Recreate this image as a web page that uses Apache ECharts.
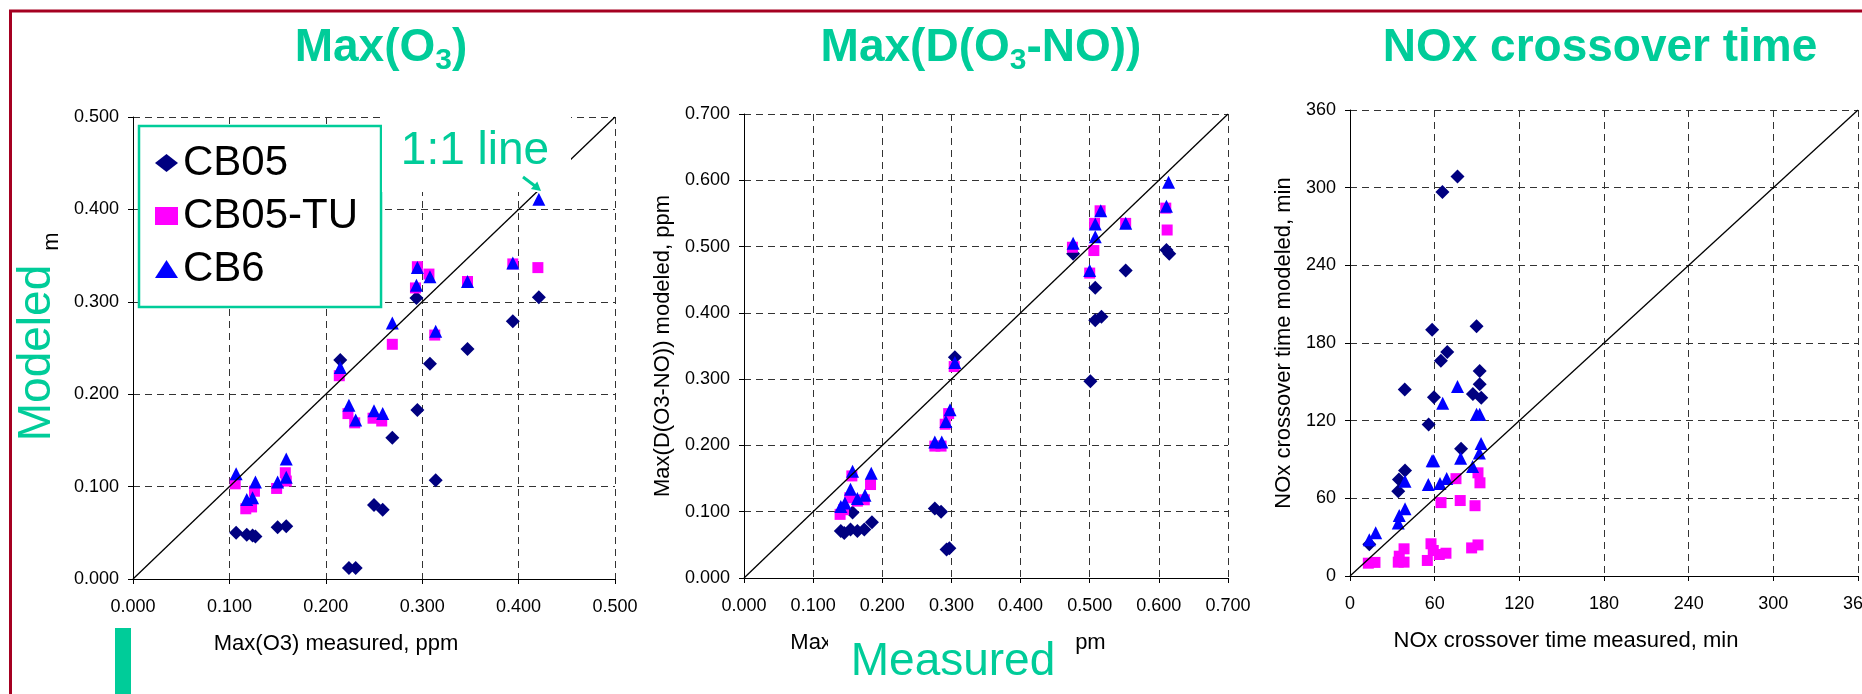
<!DOCTYPE html>
<html>
<head>
<meta charset="utf-8">
<script src="https://cdn.jsdelivr.net/npm/echarts@6.0.0/dist/echarts.min.js"></script>
<style>
html, body { margin: 0; padding: 0; background: #fff; }
#mainChart { width: 1862px; height: 694px; }
</style>
</head>
<body>
<div id="mainChart"></div>
<script>
// Max(O3): [measured, modeled] ppm
var o3Cb05 = [[0.107,0.050],[0.118,0.048],[0.124,0.047],[0.127,0.046],[0.150,0.056],[0.159,0.057],[0.215,0.237],[0.224,0.012],[0.231,0.012],[0.250,0.080],[0.259,0.075],[0.269,0.153],[0.294,0.304],[0.295,0.183],[0.308,0.233],[0.314,0.107],[0.347,0.249],[0.394,0.279],[0.421,0.305]];
var o3Cb05tu = [[0.106,0.103],[0.117,0.076],[0.123,0.078],[0.126,0.095],[0.149,0.098],[0.158,0.115],[0.159,0.106],[0.214,0.220],[0.223,0.179],[0.230,0.169],[0.249,0.174],[0.258,0.171],[0.269,0.254],[0.293,0.315],[0.295,0.338],[0.307,0.330],[0.313,0.264],[0.347,0.322],[0.394,0.341],[0.420,0.337]];
var o3Cb6 = [[0.107,0.114],[0.118,0.086],[0.124,0.088],[0.127,0.105],[0.150,0.105],[0.159,0.130],[0.159,0.110],[0.215,0.229],[0.224,0.188],[0.231,0.172],[0.250,0.182],[0.259,0.179],[0.269,0.277],[0.294,0.318],[0.295,0.337],[0.308,0.327],[0.314,0.268],[0.347,0.322],[0.394,0.342],[0.421,0.411]];

// Max(D(O3-NO)): [measured, modeled] ppm
var dCb05 = [[0.140,0.071],[0.145,0.068],[0.154,0.073],[0.157,0.099],[0.164,0.071],[0.174,0.073],[0.185,0.084],[0.276,0.105],[0.285,0.100],[0.293,0.043],[0.297,0.045],[0.305,0.333],[0.476,0.489],[0.501,0.297],[0.508,0.438],[0.508,0.389],[0.517,0.394],[0.552,0.464],[0.611,0.495],[0.615,0.489]];
var dCb05tu = [[0.139,0.096],[0.144,0.103],[0.153,0.121],[0.156,0.154],[0.164,0.116],[0.174,0.118],[0.183,0.141],[0.276,0.199],[0.285,0.199],[0.291,0.232],[0.296,0.248],[0.304,0.319],[0.475,0.499],[0.500,0.460],[0.507,0.535],[0.506,0.494],[0.515,0.554],[0.552,0.535],[0.610,0.558],[0.612,0.525]];
var dCb6 = [[0.140,0.108],[0.146,0.113],[0.154,0.134],[0.157,0.161],[0.164,0.120],[0.175,0.125],[0.184,0.158],[0.276,0.205],[0.286,0.205],[0.292,0.236],[0.298,0.254],[0.305,0.325],[0.476,0.505],[0.500,0.464],[0.508,0.534],[0.508,0.515],[0.516,0.554],[0.552,0.535],[0.611,0.561],[0.614,0.597]];

// NOx crossover time: [measured, modeled] min
var nCb05 = [[13.7,24.5],[34.2,65.5],[34.7,74.5],[39.0,81.5],[38.8,144.0],[55.7,117.0],[58.2,190.3],[59.5,138.0],[64.4,166.3],[65.5,296.6],[68.9,173.1],[76.2,308.6],[78.7,98.4],[87.1,140.6],[89.7,193.0],[91.9,158.4],[91.9,148.1],[93.0,137.8]];
var nCb05tu = [[13.0,9.9],[17.7,10.5],[34.2,10.7],[34.9,15.3],[38.3,21.0],[38.3,10.7],[54.8,12.0],[57.4,24.9],[59.0,19.7],[63.3,16.6],[68.0,17.6],[64.5,56.7],[75.1,75.2],[78.1,58.3],[86.2,21.7],[88.6,54.3],[90.7,24.0],[90.7,79.7],[92.1,72.0]];
var nCb6 = [[13.7,28.0],[18.2,33.4],[34.2,40.9],[34.9,46.8],[39.0,52.0],[39.0,73.2],[55.5,70.6],[58.2,89.0],[59.3,89.0],[63.8,71.5],[68.5,75.4],[65.7,133.5],[76.2,146.4],[78.4,90.9],[86.9,84.5],[89.7,125.0],[91.9,125.0],[91.7,95.1],[92.9,102.3]];

// 1:1 lines
var o3Diag = [[0, 0], [0.5, 0.5]];
var dDiag = [[0, 0], [0.7, 0.7]];
var nDiag = [[0, 0], [360, 360]];

var legends = ['CB05', 'CB05-TU', 'CB6'];
var axisMax = [0.5, 0.7, 360];
var axisStep = [0.1, 0.1, 60];
var xNames = ['Max(O3) measured, ppm', 'Max(D(O3-NO)) measured, ppm', 'NOx crossover time measured, min'];
var yNames = ['Max(O3) modeled, ppm', 'Max(D(O3-NO)) modeled, ppm', 'NOx crossover time modeled, min'];

var font = "'Liberation Sans', Arial, sans-serif";
var teal = '#00CC99';
var borderRed = '#A50021';

function valueAxis(i, isX) {
    var digits = i < 2 ? 3 : 0;
    return {
        type: 'value',
        gridIndex: i,
        min: 0,
        max: axisMax[i],
        interval: axisStep[i],
        name: isX ? xNames[i] : yNames[i],
        nameLocation: 'middle',
        nameGap: isX ? 54 : (i === 2 ? 55 : 70),
        nameTextStyle: {
            fontFamily: font, fontSize: 22, color: '#000',
            padding: isX ? [0, 76, 0, 0] : 0
        },
        axisLine: {show: true, onZero: false, lineStyle: {color: '#000', width: 1}},
        axisTick: {show: true, inside: false, length: 5, lineStyle: {color: '#000'}},
        axisLabel: {
            fontFamily: font, fontSize: 18, color: '#000',
            margin: isX ? 19 : 14,
            formatter: function (v) { return v.toFixed(digits); }
        },
        splitLine: {show: true, lineStyle: {color: '#333', width: 1, type: [7, 5]}}
    };
}

function scatter(name, i, data) {
    var look = {
        'CB05': {symbol: 'diamond', size: 14, color: '#000080'},
        'CB05-TU': {symbol: 'rect', size: 11, color: '#FF00FF'},
        'CB6': {symbol: 'triangle', size: 13, color: '#0000FF'}
    }[name];
    return {
        name: name,
        type: 'scatter',
        xAxisIndex: i,
        yAxisIndex: i,
        symbol: look.symbol,
        symbolSize: look.size,
        itemStyle: {color: look.color, opacity: 1},
        data: data
    };
}

function diag(i, data) {
    return {
        type: 'line',
        xAxisIndex: i,
        yAxisIndex: i,
        symbol: 'none',
        silent: true,
        z: 5,
        lineStyle: {color: '#000', width: 1.3},
        data: data
    };
}

var titleRich = {
    t: {fontFamily: font, fontSize: 46, fontWeight: 'bold', fill: teal, lineHeight: 56},
    s: {fontFamily: font, fontSize: 30, fontWeight: 'bold', fill: teal, lineHeight: 26, verticalAlign: 'bottom'}
};

function title(x, text) {
    return {
        type: 'text', x: x, y: 48, z: 100,
        style: {text: text, rich: titleRich, fill: teal, align: 'center', verticalAlign: 'middle'}
    };
}

var myChart = echarts.init(document.getElementById('mainChart'));
myChart.setOption({
    animation: false,
    backgroundColor: '#fff',
    grid: [
        {left: 133, top: 117, width: 482, height: 462, outerBoundsMode: 'none'},
        {left: 744, top: 114, width: 484, height: 464, outerBoundsMode: 'none'},
        {left: 1350, top: 110, width: 508, height: 466, outerBoundsMode: 'none'}
    ],
    xAxis: [valueAxis(0, true), valueAxis(1, true), valueAxis(2, true)],
    yAxis: [valueAxis(0, false), valueAxis(1, false), valueAxis(2, false)],
    legend: {
        data: legends,
        orient: 'vertical',
        left: 139,
        top: 126,
        padding: [16, 23, 17, 16],
        itemGap: 11,
        itemWidth: 23,
        itemHeight: 18,
        backgroundColor: '#fff',
        borderColor: teal,
        borderWidth: 2.5,
        borderRadius: 0,
        textStyle: {fontFamily: font, fontSize: 42, color: '#000', lineHeight: 40},
        z: 20
    },
    series: [
        diag(0, o3Diag),
        scatter('CB05', 0, o3Cb05), scatter('CB05-TU', 0, o3Cb05tu), scatter('CB6', 0, o3Cb6),
        diag(1, dDiag),
        scatter('CB05', 1, dCb05), scatter('CB05-TU', 1, dCb05tu), scatter('CB6', 1, dCb6),
        diag(2, nDiag),
        scatter('CB05', 2, nCb05), scatter('CB05-TU', 2, nCb05tu), scatter('CB6', 2, nCb6)
    ],
    graphic: [
        // slide frame
        {type: 'line', z: 100, shape: {x1: 9, y1: 11, x2: 1862, y2: 11}, style: {stroke: borderRed, lineWidth: 3}},
        {type: 'line', z: 100, shape: {x1: 10.5, y1: 10, x2: 10.5, y2: 694}, style: {stroke: borderRed, lineWidth: 3}},
        {type: 'rect', z: 100, shape: {x: 115, y: 628, width: 16, height: 66}, style: {fill: teal}},
        // titles
        title(381, '{t|Max(O}{s|3}{t|)}'),
        title(981, '{t|Max(D(O}{s|3}{t|-NO))}'),
        title(1600, '{t|NOx crossover time}'),
        // "Modeled" label over the first y-axis name
        {type: 'rect', z: 100, shape: {x: 15, y: 251, width: 54, height: 225}, style: {fill: '#fff'}},
        {type: 'text', z: 101, x: 37, y: 353, rotation: Math.PI / 2,
            style: {text: 'Modeled', fontFamily: font, fontSize: 46, fill: teal, align: 'center', verticalAlign: 'middle'}},
        // "Measured" label over the second x-axis name
        {type: 'rect', z: 100, shape: {x: 828, y: 628, width: 248, height: 66}, style: {fill: '#fff'}},
        {type: 'text', z: 101, x: 953, y: 662,
            style: {text: 'Measured', fontFamily: font, fontSize: 46, fill: teal, align: 'center', verticalAlign: 'middle'}},
        // "1:1 line" callout
        {type: 'rect', z: 100, shape: {x: 382, y: 112, width: 189, height: 80}, style: {fill: '#fff'}},
        {type: 'text', z: 101, x: 475, y: 151,
            style: {text: '1:1 line', fontFamily: font, fontSize: 46, fill: teal, align: 'center', verticalAlign: 'middle'}},
        {type: 'line', z: 101, shape: {x1: 523, y1: 177, x2: 535, y2: 186}, style: {stroke: teal, lineWidth: 3}},
        {type: 'polygon', z: 101, shape: {points: [[541, 191], [530.9, 189], [537.3, 181.4]]}, style: {fill: teal}}
    ]
});
</script>
</body>
</html>
